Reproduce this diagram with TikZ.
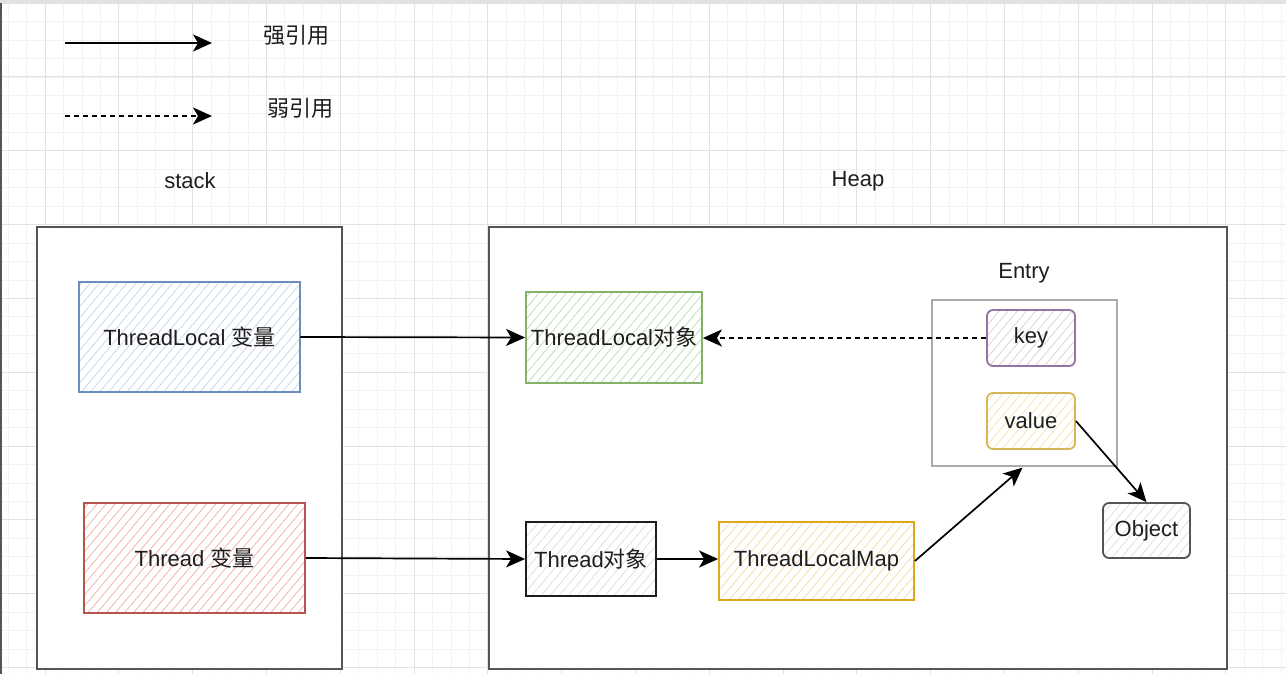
\documentclass[tikz,border=0pt]{standalone}
\usepackage{fontspec}
\setmainfont{Liberation Sans}
\newfontfamily\cjk{Noto Sans CJK SC}
\usetikzlibrary{arrows.meta,patterns.meta,calc}
\definecolor{txt}{HTML}{1E1E1E}
\definecolor{gridminor}{HTML}{F2F2F2}
\definecolor{gridmajor}{HTML}{E2E2E2}
\definecolor{frame}{HTML}{555555}
\definecolor{blueB}{HTML}{6C8EBF}\definecolor{blueH}{HTML}{C2D3EE}
\definecolor{redB}{HTML}{B85450}\definecolor{redH}{HTML}{F2A9A9}
\definecolor{greenB}{HTML}{82B366}\definecolor{greenH}{HTML}{BCDBAB}
\definecolor{goldB}{HTML}{DDA81E}\definecolor{goldH}{HTML}{F9D9A6}
\definecolor{purB}{HTML}{9673A6}\definecolor{purH}{HTML}{D6D0DA}
\definecolor{yelB}{HTML}{D6B656}\definecolor{yelH}{HTML}{F2E4AE}
\definecolor{grayH}{HTML}{DDDDDD}
\tikzset{
  x=1pt, y=-1pt,
  lbl/.style={font=\fontsize{22}{26}\selectfont, text=txt},
  hbox/.style 2 args={draw=#1, line width=1.8pt, inner sep=0pt, preaction={fill=white},
     pattern={Lines[angle=50,distance=7pt,line width=0.7pt]}, pattern color=#2,
     font=\fontsize{22}{26}\selectfont, text=txt},
  region/.style={draw=frame, line width=1.8pt, fill=white, inner sep=0pt},
  strong/.style={line width=1.7pt, -{Stealth[length=19pt,width=17pt,inset=5pt]}},
  weak/.style={strong, dashed, dash pattern=on 5pt off 4pt},
}
\begin{document}
\begin{tikzpicture}
\useasboundingbox (0,0) rectangle (1286,674);
\fill[white] (0,0) rectangle (1286,674);
% grid
\begin{scope}
\clip (0,0) rectangle (1286,674);
\foreach \k in {-12,...,70} {
  \draw[gridminor, line width=0.8pt] ({45+\k*18.45},0) -- ({45+\k*18.45},674);
  \draw[gridminor, line width=0.8pt] (0,{3.2+\k*18.45}) -- (1286,{3.2+\k*18.45});
}
\foreach \k in {-3,...,18} {
  \draw[gridmajor, line width=1pt] ({45+\k*73.8},0) -- ({45+\k*73.8},674);
  \draw[gridmajor, line width=1pt] (0,{3.2+\k*73.8}) -- (1286,{3.2+\k*73.8});
}
\end{scope}
\draw[frame, line width=2pt] (1,0) -- (1,674);
\draw[gridmajor, line width=3pt] (0,1.5) -- (1286,1.5);

% legend
\coordinate (ls1) at (65,43); \coordinate (le1) at (212,43);
\coordinate (ls2) at (65,116); \coordinate (le2) at (212,116);
\draw[strong] (ls1) -- (le1);
\draw[weak] (ls2) -- (le2);
\node[lbl] (strongtxt) at (296,35) {\cjk 强引用};
\node[lbl] (weaktxt) at (300,108) {\cjk 弱引用};

% titles
\node[lbl] (stacktitle) at (190,181) {stack};
\node[lbl] (heaptitle) at (858,181) {Heap};

% regions
\node[region, minimum width=305pt, minimum height=442pt] (stack) at (189.5,448) {};
\node[region, minimum width=738pt, minimum height=442pt] (heap) at (858,448) {};

% stack nodes
\node[hbox={blueB}{blueH}, minimum width=221pt, minimum height=110pt] (tlvar) at (189.5,337) {ThreadLocal {\cjk 变量}};
\node[hbox={redB}{redH}, minimum width=221pt, minimum height=110pt] (thvar) at (194.5,558) {Thread {\cjk 变量}};

% heap nodes
\node[hbox={greenB}{greenH}, minimum width=176pt, minimum height=91pt] (tlobj) at (614,337.5) {ThreadLocal{\cjk 对象}};
\node[hbox={txt}{grayH}, minimum width=130pt, minimum height=74pt] (thobj) at (591,559) {Thread{\cjk 对象}};
\node[hbox={goldB}{goldH}, minimum width=195pt, minimum height=78pt] (tlmap) at (816.5,561) {ThreadLocalMap};

\node[draw=black!33, line width=1.2pt, fill=white, minimum width=185pt, minimum height=166pt, inner sep=0pt] (entry) at (1024.5,383) {};
\node[lbl] (entrytitle) at (1024,273) {Entry};
\node[hbox={purB}{purH}, rounded corners=6pt, minimum width=88pt, minimum height=56pt] (key) at (1031,338) {key};
\node[hbox={yelB}{yelH}, rounded corners=6pt, minimum width=88pt, minimum height=56pt] (value) at (1031,421) {value};
\node[hbox={frame}{grayH}, rounded corners=6pt, minimum width=87pt, minimum height=55pt] (object) at (1146.5,530.5) {Object};

% connectors
\draw[strong] (tlvar.east) -- (tlobj.west);
\draw[strong] (thvar.east) -- (thobj.west);
\draw[strong] (thobj.east) -- (thobj.east -| tlmap.west);
\draw[weak] (key.west) -- (key.west -| tlobj.east);
\draw[strong] (tlmap.east) -- ($(entry.south)+(-2,1)$);
\draw[strong] (value.east) -- (object.north);
\end{tikzpicture}
\end{document}
